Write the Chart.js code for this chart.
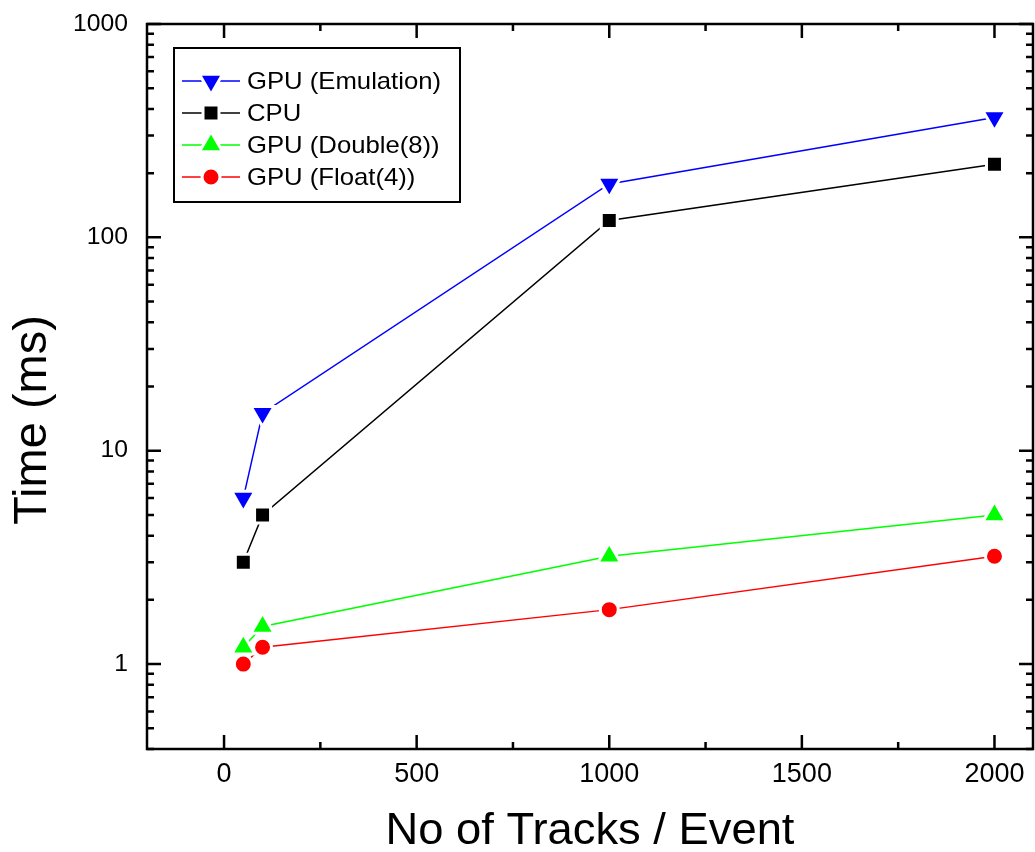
<!DOCTYPE html>
<html>
<head>
<meta charset="utf-8">
<script src="https://cdn.jsdelivr.net/npm/chart.js@4.4.1/dist/chart.umd.min.js"></script>
<style>
  body { margin: 0; background: #fff; }
  #wrap { width: 1035px; height: 852px; }
</style>
</head>
<body>
<div id="wrap"><canvas id="chartdiv" width="1035" height="852"></canvas></div>
<script>
// values
var tracks = [50, 100, 1000, 2000];
var gpuEmulation = [6, 15, 178, 365];
var cpu = [3, 5, 120, 220];
var gpuDouble = [1.2, 1.5, 3.2, 5];
var gpuFloat = [1, 1.2, 1.8, 3.2];
var labels = ["GPU (Emulation)", "CPU", "GPU (Double(8))", "GPU (Float(4))"];
var xTicks = [0, 500, 1000, 1500, 2000];
var xMinor = [250, 750, 1250, 1750];
var yTicks = [1, 10, 100, 1000];
var yMinor = [0.4, 0.5, 0.6, 0.7, 0.8, 0.9, 2, 3, 4, 5, 6, 7, 8, 9, 20, 30, 40, 50, 60, 70, 80, 90, 200, 300, 400, 500, 600, 700, 800, 900];

function pts(ys) {
    var out = [];
    for (var i = 0; i < tracks.length; i++) {
        out.push({x: tracks[i], y: ys[i]});
    }
    return out;
}

function stretched(ctx, text, x, y, sx, align) {
    ctx.save();
    ctx.translate(x, y);
    ctx.scale(sx, 1);
    ctx.textAlign = align;
    ctx.fillText(text, 0, 0);
    ctx.restore();
}

var frame = {
    id: 'frame',
    afterDraw: function(chart) {
        var ctx = chart.ctx;
        var a = chart.chartArea;
        var xs = chart.scales.x, ys = chart.scales.y;
        ctx.save();
        ctx.strokeStyle = '#000';
        ctx.fillStyle = '#000';
        ctx.lineWidth = 2.5;
        ctx.strokeRect(a.left, a.top, a.right - a.left, a.bottom - a.top);

        // inward ticks on all four sides
        ctx.beginPath();
        function xt(v, len) {
            var p = xs.getPixelForValue(v);
            ctx.moveTo(p, a.bottom); ctx.lineTo(p, a.bottom - len);
            ctx.moveTo(p, a.top); ctx.lineTo(p, a.top + len);
        }
        function yt(v, len) {
            var p = ys.getPixelForValue(v);
            ctx.moveTo(a.left, p); ctx.lineTo(a.left + len, p);
            ctx.moveTo(a.right, p); ctx.lineTo(a.right - len, p);
        }
        xTicks.forEach(function(v) { xt(v, 14); });
        xMinor.forEach(function(v) { xt(v, 7); });
        yTicks.forEach(function(v) { yt(v, 14); });
        yMinor.forEach(function(v) { yt(v, 7); });
        ctx.stroke();

        // tick labels
        ctx.textBaseline = 'middle';
        ctx.font = '27px "Liberation Sans", Arial, sans-serif';
        xTicks.forEach(function(v) {
            stretched(ctx, String(v), xs.getPixelForValue(v), a.bottom + 26, 1, 'center');
        });
        ctx.font = '24px "Liberation Sans", Arial, sans-serif';
        yTicks.forEach(function(v) {
            stretched(ctx, String(v), 128, ys.getPixelForValue(v), 1.03, 'right');
        });

        // axis titles
        ctx.font = '44px "Liberation Sans", Arial, sans-serif';
        stretched(ctx, 'No of Tracks / Event', 590, 832, 1.03, 'center');
        ctx.save();
        ctx.translate(33, 420);
        ctx.rotate(-Math.PI / 2);
        ctx.font = '47px "Liberation Sans", Arial, sans-serif';
        ctx.textAlign = 'center';
        ctx.fillText('Time (ms)', 0, 0);
        ctx.restore();

        // legend box
        ctx.fillStyle = '#fff';
        ctx.fillRect(174, 48, 286, 154);
        ctx.strokeStyle = '#000';
        ctx.lineWidth = 2;
        ctx.strokeRect(174, 48, 286, 154);
        var rows = [81, 113, 145, 177];
        chart.data.datasets.forEach(function(ds, i) {
            var y = rows[i];
            ctx.strokeStyle = ds.borderColor;
            ctx.lineWidth = 1.5;
            ctx.beginPath();
            ctx.moveTo(182, y); ctx.lineTo(240, y);
            ctx.stroke();
            ctx.fillStyle = ds.pointBackgroundColor;
            ctx.strokeStyle = '#fff';
            ctx.lineWidth = ds.pointBorderWidth;
            Chart.helpers.drawPoint(ctx, {
                pointStyle: ds.pointStyle,
                rotation: ds.pointRotation || 0,
                radius: ds.pointRadius,
                borderWidth: ds.pointBorderWidth
            }, 211, y);
            ctx.fillStyle = '#000';
            ctx.font = '24px "Liberation Sans", Arial, sans-serif';
            ctx.textBaseline = 'middle';
            stretched(ctx, labels[i], 247, y + 1, 1.07, 'left');
        });
        ctx.restore();
    }
};

var colors = ['#0000ff', '#000000', '#00ff00', '#ff0000'];
var series = [gpuEmulation, cpu, gpuDouble, gpuFloat];
var styles = ['triangle', 'rect', 'triangle', 'circle'];
var rotations = [180, 0, 0, 0];
var radii = [13.4, 11.3, 13.4, 9];

var datasets = [];
for (let i = 0; i < series.length; i++) {
    datasets.push({
        label: labels[i],
        data: pts(series[i]),
        borderColor: colors[i],
        borderWidth: 1.5,
        pointStyle: styles[i],
        pointRotation: rotations[i],
        pointRadius: radii[i],
        pointBackgroundColor: colors[i],
        pointBorderColor: '#fff',
        pointBorderWidth: 3,
        pointHoverRadius: radii[i],
        tension: 0,
        fill: false
    });
}

var ctxgen = document.getElementById('chartdiv').getContext('2d');
var chartgen = new Chart(ctxgen, {
    type: 'line',
    data: { datasets: datasets },
    options: {
        responsive: false,
        animation: false,
        events: [],
        layout: { autoPadding: false, padding: { top: 24, right: 2, left: 0, bottom: 0 } },
        plugins: { legend: { display: false }, tooltip: { enabled: false } },
        scales: {
            x: {
                type: 'linear',
                min: -200,
                max: 2100,
                grid: { display: false },
                border: { display: false },
                ticks: { display: false },
                afterFit: function(s) { s.height = 103; }
            },
            y: {
                type: 'logarithmic',
                min: 0.4,
                max: 1000,
                grid: { display: false },
                border: { display: false },
                ticks: { display: false },
                afterFit: function(s) { s.width = 147; }
            }
        }
    },
    plugins: [frame]
});
</script>
</body>
</html>
